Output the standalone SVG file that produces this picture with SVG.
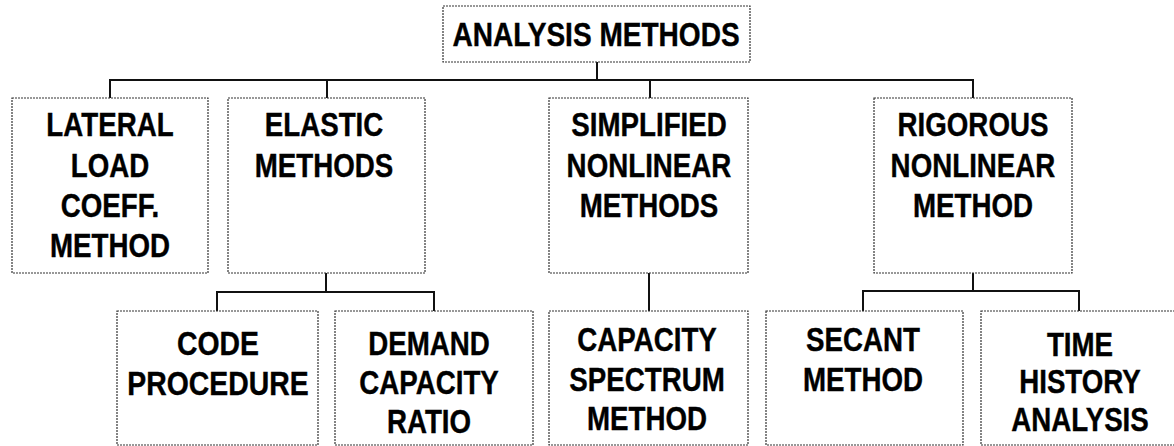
<svg xmlns="http://www.w3.org/2000/svg" width="1174" height="446" viewBox="0 0 1174 446">
<style>
.box{fill:#fff;stroke:#333;stroke-width:1.2;stroke-dasharray:2 1}
.t{font-family:"Liberation Sans",Arial,sans-serif;font-weight:bold;font-size:33px;fill:#000;stroke:#000;stroke-width:0.4;text-anchor:middle}
.c{fill:none;stroke:#111;stroke-width:2}
</style>
<rect width="1174" height="446" fill="#fff"/>
<g id="connectors">
<path class="c" d="M597 62V80M110 98V80H973V98M327 80V98M650 80V98"/>
<path class="c" d="M326 273V292M217 311V292H434V311"/>
<path class="c" d="M649 273V311"/>
<path class="c" d="M973 273V291M863 311V291H1079V311"/>
</g>
<g id="analysis-methods">
<rect class="box" x="443" y="6" width="307" height="56"/>
<g transform="translate(596,0) scale(0.85,1)"><text class="t" x="0" y="46">ANALYSIS METHODS</text></g>
</g>
<g id="lateral-load">
<rect class="box" x="12" y="98" width="196" height="175"/>
<g transform="translate(110,0) scale(0.84,1)">
<text class="t" x="0" y="136">LATERAL</text><text class="t" x="0" y="177">LOAD</text><text class="t" x="0" y="217">COEFF.</text><text class="t" x="0" y="257">METHOD</text></g>
</g>
<g id="elastic">
<rect class="box" x="228" y="98" width="197" height="175"/>
<g transform="translate(324,0) scale(0.84,1)">
<text class="t" x="0" y="136">ELASTIC</text><text class="t" x="0" y="177">METHODS</text></g>
</g>
<g id="simplified">
<rect class="box" x="549" y="98" width="199" height="175"/>
<g transform="translate(649,0) scale(0.84,1)">
<text class="t" x="0" y="136">SIMPLIFIED</text><text class="t" x="0" y="177">NONLINEAR</text><text class="t" x="0" y="217">METHODS</text></g>
</g>
<g id="rigorous">
<rect class="box" x="874" y="98" width="198" height="175"/>
<g transform="translate(973,0) scale(0.84,1)">
<text class="t" x="0" y="136">RIGOROUS</text><text class="t" x="0" y="177">NONLINEAR</text><text class="t" x="0" y="217">METHOD</text></g>
</g>
<g id="code-procedure">
<rect class="box" x="117" y="311" width="201" height="134"/>
<g transform="translate(218,0) scale(0.86,1)">
<text class="t" x="0" y="355">CODE</text><text class="t" x="0" y="395">PROCEDURE</text></g>
</g>
<g id="demand-capacity">
<rect class="box" x="335" y="311" width="198" height="134"/>
<g transform="translate(429,0) scale(0.84,1)">
<text class="t" x="0" y="355">DEMAND</text><text class="t" x="0" y="394">CAPACITY</text><text class="t" x="0" y="433">RATIO</text></g>
</g>
<g id="capacity-spectrum">
<rect class="box" x="549" y="311" width="199" height="134"/>
<g transform="translate(647,0) scale(0.84,1)">
<text class="t" x="0" y="351">CAPACITY</text><text class="t" x="0" y="391">SPECTRUM</text><text class="t" x="0" y="430">METHOD</text></g>
</g>
<g id="secant">
<rect class="box" x="766" y="311" width="197" height="134"/>
<g transform="translate(863,0) scale(0.84,1)">
<text class="t" x="0" y="351">SECANT</text><text class="t" x="0" y="391">METHOD</text></g>
</g>
<g id="time-history">
<rect class="box" x="981" y="311" width="198" height="134"/>
<g transform="translate(1080,0) scale(0.84,1)">
<text class="t" x="0" y="356">TIME</text><text class="t" x="0" y="393">HISTORY</text><text class="t" x="0" y="431">ANALYSIS</text></g>
</g>
</svg>
